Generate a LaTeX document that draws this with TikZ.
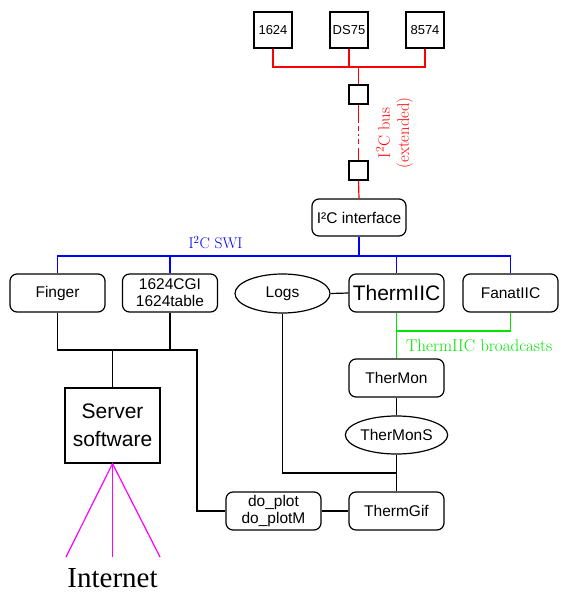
\documentclass[tikz,border=0pt]{standalone}
\usepackage{fontspec}
\setsansfont{Liberation Sans}
\newfontfamily\netfont{Liberation Serif}
\usetikzlibrary{shapes.geometric}
\definecolor{busred}{RGB}{255,0,0}
\definecolor{swiblue}{RGB}{0,0,255}
\definecolor{bcgreen}{RGB}{0,230,0}
\definecolor{netmag}{RGB}{255,0,255}
\tikzset{
  every path/.style={line width=1.2pt},
  rbox/.style={draw, rounded corners=7pt, minimum width=95pt, minimum height=38pt, inner sep=0pt, align=center,
    font=\sffamily\fontsize{15.5}{17}\selectfont},
  topbox/.style={draw, minimum width=38pt, minimum height=36pt, inner sep=0pt,
    font=\sffamily\fontsize{13}{15}\selectfont},
  smallbox/.style={draw, minimum width=19pt, minimum height=19pt, inner sep=0pt},
  ellbox/.style={draw, ellipse, minimum width=95pt, minimum height=39pt, inner sep=0pt,
    font=\sffamily\fontsize{15.5}{17}\selectfont},
  lbl/.style={font=\fontsize{16.5}{19}\selectfont, inner sep=0pt},
}
\begin{document}
\begin{tikzpicture}[x=1pt,y=-1pt]
\useasboundingbox (0,0) rectangle (568,597);
% top devices
\node[topbox] (d1624) at (273,30) {1624};
\node[topbox] (dds75) at (349,30) {DS75};
\node[topbox] (d8574) at (425,30) {8574};
\node[smallbox] (sb1) at (358.5,94.5) {};
\node[smallbox] (sb2) at (358.5,170.5) {};
\node[rbox, minimum width=94pt, minimum height=37pt] (i2c) at (359,217.5) {I²C interface};
\coordinate (bj) at (358.5,67);
\coordinate (c1) at (358.5,123);
\coordinate (c2) at (358.5,148);
% red bus
\draw[busred] (d1624.south) |- (bj);
\draw[busred] (d8574.south) |- (bj);
\draw[busred] (dds75.south) -- (dds75.south |- bj);
\draw[busred] (bj) -- (sb1.north);
\draw[busred] (sb1.south) -- (c1);
\draw[busred, dash pattern=on 0pt off 3pt on 5pt off 3pt on 1.5pt off 3pt on 5.5pt off 4pt] (c1) -- (c2);
\draw[busred] (c2) -- (sb2.north);
\draw[busred] (sb2.south) -- (i2c.north);
\node[lbl, text=busred, rotate=90, align=center] (buslbl) at (394.5,133) {I\textsuperscript{2}C bus\\(extended)};
% second row
\node[rbox] (finger) at (57.5,293) {Finger};
\node[rbox] (cgi) at (170,293) {1624CGI\\1624table};
\node[ellbox] (logs) at (282.5,293.5) {Logs};
\node[rbox, font=\sffamily\fontsize{21}{23}\selectfont] (therm) at (396.5,293) {ThermIIC};
\node[rbox] (fanat) at (510.5,293) {FanatIIC};
% blue SWI
\coordinate (sj) at (359,256);
\draw[swiblue] (i2c.south) -- (sj);
\draw[swiblue] (finger.north) |- (fanat.north |- sj) -- (fanat.north);
\draw[swiblue] (cgi.north) -- (cgi.north |- sj);
\draw[swiblue] (therm.north) -- (therm.north |- sj);
\node[lbl, text=swiblue, font=\fontsize{15.5}{17}\selectfont] (swilbl) at (215.5,242.5) {I\textsuperscript{2}C SWI};
% lower right
\node[rbox] (thermon) at (396.5,378) {TherMon};
\node[ellbox, minimum height=38pt] (thermons) at (396.5,435) {TherMonS};
\node[rbox] (thermgif) at (396.5,511) {ThermGif};
\node[rbox] (doplot) at (273.5,511) {do\_plot\\do\_plotM};
% green
\coordinate (gj) at (396.5,331);
\draw[bcgreen] (therm.south) -- (thermon.north);
\draw[bcgreen] (gj) -| (fanat.south);
\node[lbl, text=bcgreen, anchor=west, font=\fontsize{17}{19}\selectfont] (bclbl) at (405.5,346) {ThermIIC broadcasts};
% black connections
\draw (logs.east) -- (therm.west);
\draw (thermon.south) -- (thermons.north);
\draw (thermons.south) -- (thermgif.north);
\coordinate (lj) at (396.5,473);
\draw (logs.south) |- (lj);
\draw (doplot.east) -- (thermgif.west);
% server
\node[draw, minimum width=95pt, minimum height=75pt, inner sep=0pt, align=center,
  font=\sffamily\fontsize{21}{28}\selectfont] (server) at (112.5,425.5) {Server\\software};
\coordinate (hj) at (197,350);
\draw (finger.south) |- (hj) |- (doplot.west);
\draw (cgi.south) -- (cgi.south |- hj);
\draw (server.north) -- (server.north |- hj);
% internet
\coordinate (i1) at (66,557);
\coordinate (i2) at (112.5,557);
\coordinate (i3) at (160,557);
\draw[netmag] (i1) -- (server.south) -- (i3);
\draw[netmag] (server.south) -- (i2);
\node[inner sep=0pt, font=\netfont\fontsize{29}{32}\selectfont] (inet) at (112.5,578) {Internet};
\end{tikzpicture}
\end{document}
